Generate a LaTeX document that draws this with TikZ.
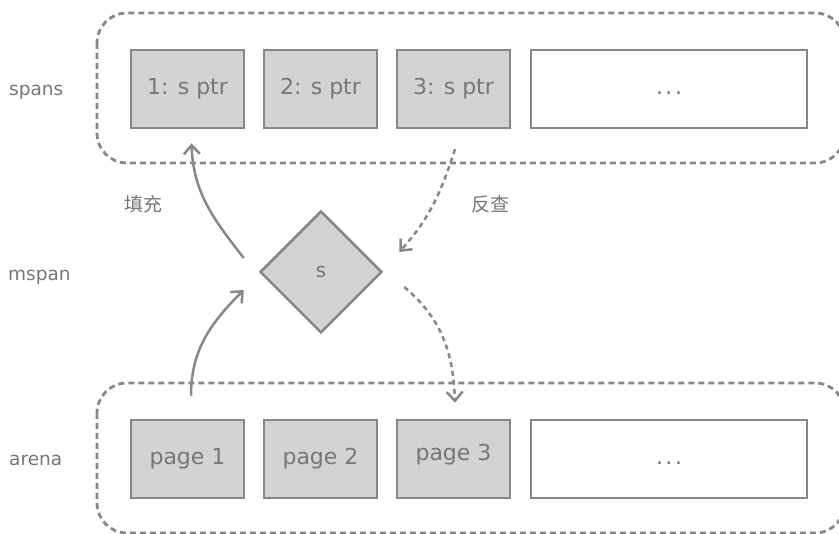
\documentclass[tikz,border=0pt]{standalone}
\usepackage{fontspec}
\setmainfont{DejaVu Sans}
\newfontfamily\cjk{Noto Sans CJK SC}
\usetikzlibrary{arrows.meta,shapes.geometric}
\definecolor{ln}{HTML}{878787}
\definecolor{tx}{HTML}{767676}
\definecolor{fl}{HTML}{D3D3D3}
\tikzset{
  container/.style={draw=ln, line width=2.8pt, dash pattern=on 6pt off 4pt, rounded corners=30pt},
  cell/.style={draw=ln, line width=2.5pt, fill=fl, minimum width=113pt, minimum height=78pt, inner sep=0pt, text=tx, font=\fontsize{22}{26}\selectfont},
  widecell/.style={cell, fill=white, minimum width=276pt},
  rowlabel/.style={anchor=base west, text=tx, inner sep=0pt, font=\fontsize{18.5}{22}\selectfont},
  cjklabel/.style={text=tx, inner sep=0pt, font=\cjk\fontsize{19}{23}\selectfont},
  celltext/.style={text=tx, inner sep=0pt, font=\fontsize{22}{26}\selectfont},
  conn/.style={draw=ln, line width=2.5pt, -{Straight Barb[length=9pt,width=16pt]}},
  dconn/.style={conn, dash pattern=on 5pt off 4pt},
}
\newcommand{\mydots}{\vphantom{1: s ptr}.\kern2.5pt.\kern2.5pt.}
\begin{document}
\begin{tikzpicture}[x=1pt,y=-1pt]
\useasboundingbox (0,0) rectangle (839,534);
% containers
\draw[container] (97,13) rectangle (845,163);
\draw[container] (97,383) rectangle (845,533);
% row labels
\node[rowlabel] (lspans) at (9,96) {spans};
\node[rowlabel] (lmspan) at (8,281) {mspan};
\node[rowlabel] (larena) at (9,466) {arena};
% spans cells
\node[cell] (s1) at (187.5,89) {1: s ptr};
\node[cell] (s2) at (320.5,89) {2: s ptr};
\node[cell] (s3) at (453.5,89) {3: s ptr};
\node[widecell] (s4) at (669,89) {\mydots};
% arena cells
\node[cell] (p1) at (187.5,459) {page 1};
\node[cell] (p2) at (320.5,459) {page 2};
\node[cell] (p3) at (453.5,459) {};
\node[celltext] (p3t) at (453.5,455) {page 3};
\node[widecell] (p4) at (669,459) {\mydots};
% mspan diamond
\node[diamond, draw=ln, line width=2.5pt, fill=fl, minimum width=122pt, minimum height=122pt, inner sep=0pt, text=tx, font=\fontsize{20}{24}\selectfont] (d) at (321,272) {s};
% edge labels
\node[cjklabel] (fill) at (143,204) {填充};
\node[cjklabel] (rev) at (490,204) {反查};
% connectors
\coordinate (a1s) at ([xshift=-15pt,yshift=14pt]d.west);
\coordinate (a1e) at ([xshift=4pt,yshift=-14pt]s1.south);
\draw[conn] (a1s) to[out=128,in=-88] (a1e);
\coordinate (a2s) at ([xshift=3.5pt,yshift=23pt]p1.north);
\coordinate (a2e) at ([xshift=-15pt,yshift=-18pt]d.west);
\draw[conn] (a2s) to[out=90,in=225] (a2e);
\coordinate (a3s) at ([xshift=1.5pt,yshift=-20pt]s3.south);
\coordinate (a3e) at ([xshift=16pt,yshift=20pt]d.east);
\draw[dconn] (a3s) to[out=-108,in=48] (a3e);
\coordinate (a4s) at ([xshift=21pt,yshift=-15pt]d.east);
\coordinate (a4e) at ([xshift=1.5pt,yshift=16pt]p3.north);
\draw[dconn] (a4s) to[out=-40,in=92] (a4e);
\end{tikzpicture}
\end{document}
